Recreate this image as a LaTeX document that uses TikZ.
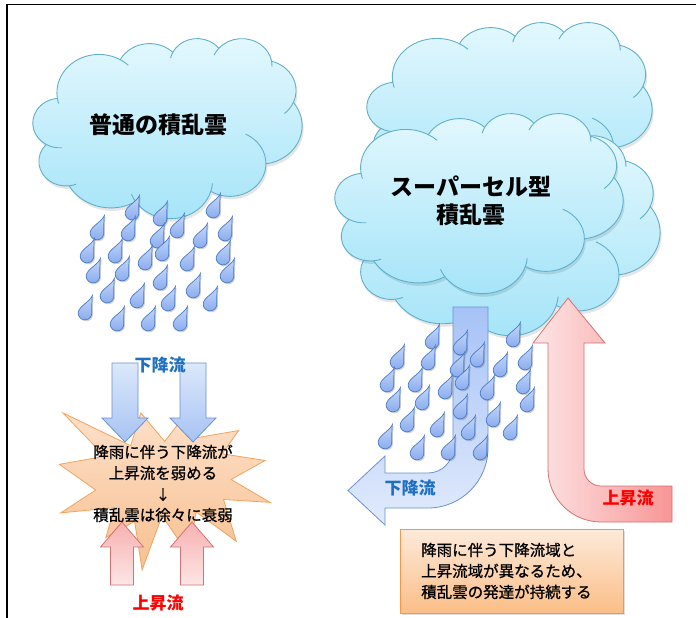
\documentclass[tikz,border=0pt]{standalone}
\usepackage{fontspec}
\newfontfamily\jp{Noto Sans CJK JP}
\newfontfamily\jpbody[FakeBold=0.8]{Noto Sans CJK JP}
\usetikzlibrary{shadows}

\definecolor{cloudtop}{HTML}{E4F8FE}
\definecolor{cloudbot}{HTML}{A4E4F8}
\definecolor{cloudedge}{HTML}{62AFCB}
\definecolor{dropA}{HTML}{C6D9F9}
\definecolor{dropB}{HTML}{8AACEF}
\definecolor{dropedge}{HTML}{4C7CC6}
\definecolor{dnedge}{HTML}{6A92D4}
\definecolor{dntop}{HTML}{DCE8FB}
\definecolor{dnbot}{HTML}{A7C3F3}
\definecolor{benttop}{HTML}{A6C2F6}
\definecolor{bentbot}{HTML}{E2EBFC}
\definecolor{upedge}{HTML}{D47272}
\definecolor{uptop}{HTML}{F7B0B0}
\definecolor{upbot}{HTML}{FDE6E6}
\definecolor{staredge}{HTML}{F2A35E}
\definecolor{startop}{HTML}{FDE3CF}
\definecolor{starbot}{HTML}{F8C090}
\definecolor{boxedge}{HTML}{F79646}
\definecolor{boxtop}{HTML}{FDEADA}
\definecolor{boxbot}{HTML}{FBBE87}
\definecolor{flowblue}{HTML}{1F70C1}
\definecolor{flowred}{HTML}{FF0000}

% elliptical arc given by its visual start angle and sweep (DrawingML style)
\newcommand\cldconv[4]{%
  \pgfmathsetmacro\cldtmpa{atan2((#1)*sin(#3),(#2)*cos(#3))}%
  \pgfmathsetmacro\cldtmpb{atan2((#1)*sin((#3)+(#4)),(#2)*cos((#3)+(#4)))}%
  \pgfmathsetmacro\cldtmpb{ifthenelse((#4)>0,ifthenelse(\cldtmpb<\cldtmpa,\cldtmpb+360,\cldtmpb),ifthenelse(\cldtmpb>\cldtmpa,\cldtmpb-360,\cldtmpb))}%
  \global\let\cldsa\cldtmpa\global\let\cldsb\cldtmpb}
\newcommand\cldarc[4]{\pgfextra{\cldconv{#1}{#2}{#3}{#4}} arc[start angle=\cldsa, end angle=\cldsb, x radius=#1, y radius=#2]}

% cloud outline in a 432 x 432 box
\newcommand\cloudoutline{(39.00,143.70)
  \cldarc{67.53}{91.90}{-190.487}{123.781}
  \cldarc{53.33}{72.67}{-144.102}{89.945}
  \cldarc{43.65}{59.45}{-145.808}{99.723}
  \cldarc{48.57}{65.95}{-130.986}{117.242}
  \cldarc{53.33}{72.73}{-78.709}{109.027}
  \cldarc{67.75}{92.20}{-46.267}{130.269}
  \cldarc{57.85}{78.67}{0.625}{114.033}
  \cldarc{67.52}{92.15}{22.452}{115.173}
  \cldarc{77.20}{105.43}{66.243}{75.711}
  \cldarc{43.60}{59.18}{-274.942}{146.736}
  \cldarc{43.45}{59.45}{-246.829}{152.519}
  -- cycle}
% small inner curves between the puffs
\newcommand\cloudinner{%
  \draw[cloudline] (39.00,143.70) \cldarc{67.53}{91.90}{-190.487}{-11.5};
  \draw[cloudline] (140.05,52.01) \cldarc{67.53}{91.90}{-66.706}{12.3};
  \draw[cloudline] (224.56,34.30) \cldarc{43.65}{59.45}{-145.808}{-17.69};
  \draw[cloudline] (298.33,24.80) \cldarc{48.57}{65.95}{-130.986}{-18.2};
  \draw[cloudline] (383.18,55.77) \cldarc{48.57}{65.95}{-13.744}{14.86};
  \draw[cloudline] (418.18,154.60) \cldarc{53.33}{72.73}{30.318}{27.75};
  \draw[cloudline] (374.04,302.03) \cldarc{57.85}{78.67}{0.625}{-70.92};
  \draw[cloudline] (285.56,368.13) \cldarc{67.52}{92.15}{22.452}{-16.0};
  \draw[cloudline] (164.81,392.66) \cldarc{67.52}{92.15}{137.625}{14.08};
  \draw[cloudline] (58.05,354.72) \cldarc{43.60}{59.18}{85.058}{-11.45};
  \draw[cloudline] (21.14,255.50) \cldarc{43.45}{59.45}{113.171}{-26.43};
}
% #1,#2: top-left corner; #3,#4: width/432 and height/432
\newcommand\drawcloud[4]{%
  \begin{scope}[xshift=#1pt, yshift=-#2pt, x=#3pt, y=-#4pt]
    \fill[cloudshadow] \cloudoutline;
    \path[cloudfill] \cloudoutline;
    \cloudinner
  \end{scope}}

\newcommand\droppath{(7.4,-17.5) .. controls (4.8,-11) and (-6.8,-6.5) .. (-6.8,0)
  .. controls (-6.8,4.2) and (-3.6,6.8) .. (0,6.8)
  .. controls (4,6.8) and (6.8,3.8) .. (6.8,0)
  .. controls (6.8,-5.5) and (6.6,-11) .. cycle}

\newcommand\dropfield{%
  \foreach \p in {(132,213),(160,219),(213,211),(97,233),(128,234),(157,241),
    (177,231),(200,241),(225,234),(87,256),(115,256),(145,263),(162,254),
    (187,264),(223,258),(93,276),(122,274),(160,283),(193,291),(227,276),
    (107,296),(137,301),(168,304),(210,304),(85,313),(117,324),(148,324),(180,324)}
    {\pic at \p {raindrop};}}

\newcommand\dnarrow[1]{\path[dnarrowst] (#1-13,363) -- (#1+13,363) -- (#1+13,418)
  -- (#1+23,418) -- (#1,442) -- (#1-23,418) -- (#1-13,418) -- cycle;}
\newcommand\uparr[1]{\path[uparrowst] (#1,522) -- (#1+21.5,547) -- (#1+11.5,547)
  -- (#1+11.5,585) -- (#1-11.5,585) -- (#1-11.5,547) -- (#1-21.5,547) -- cycle;}

\tikzset{
  cloudfill/.style={top color=cloudtop, bottom color=cloudbot, draw=cloudedge, line width=0.9pt},
  cloudline/.style={draw=cloudedge, line width=0.9pt},
  cloudshadow/.style={fill=black, opacity=0.10, xshift=1.5pt, yshift=-3pt},
  pics/raindrop/.style={code={
    \fill[black, opacity=0.18, xshift=1.2pt, yshift=-1.5pt] \droppath;
    \path[top color=dropA, bottom color=dropB, draw=dropedge, line width=0.7pt] \droppath;}},
  dnarrowst/.style={top color=dntop, bottom color=dnbot, draw=dnedge, line width=0.8pt},
  uparrowst/.style={top color=uptop, bottom color=upbot, draw=upedge, line width=0.8pt},
  starst/.style={top color=startop, bottom color=starbot, draw=staredge, line width=0.8pt},
  bentdown/.style={top color=benttop, bottom color=bentbot, draw=dnedge, line width=0.8pt},
  bentup/.style={left color=upbot, right color=uptop!85!red, draw=upedge, line width=0.8pt},
  sumbox/.style={rectangle, top color=boxtop, bottom color=boxbot, draw=boxedge, line width=0.8pt,
    minimum width=223pt, minimum height=84pt, inner sep=0pt,
    drop shadow={opacity=0.25, shadow xshift=2pt, shadow yshift=-2pt}},
  cloudtitle/.style={font=\jp\bfseries\fontsize{23}{28}\selectfont, align=center, inner sep=0pt},
  bodytext/.style={font=\jpbody\fontsize{15.5}{21}\selectfont, inner sep=0pt},
  flowlabel/.style={font=\jp\bfseries\fontsize{17}{20}\selectfont, inner sep=0pt},
}

\begin{document}
\begin{tikzpicture}[x=1pt, y=-1pt]
\useasboundingbox (0,0) rectangle (696,618);
\fill[white] (0,0) rectangle (696,618);

% ---------- ordinary thunderstorm ----------
\drawcloud{33}{38}{0.6227}{0.4167}
\node[cloudtitle] (ordtitle) at (158,125) {普通の積乱雲};
\dropfield

\begin{scope}[xshift=59.4pt, yshift=-394.3pt, x=0.975pt, y=-0.813pt]
  \path[starst] (108,58) -- (145.22,0) -- (141.55,53.25) -- (183.80,44.57)
    -- (167.02,73.15) -- (210.97,81.37) -- (176.07,104.75) -- (216,132.90)
    -- (168.37,129.42) -- (181.45,180.95) -- (140.20,144.57) -- (132.47,197.37)
    -- (105.32,149.35) -- (84.85,216) -- (77.15,156.27) -- (47.62,176.17)
    -- (56.67,139.37) -- (1.35,145.87) -- (37.22,117.75) -- (0,86.15)
    -- (46.27,76.17) -- (3.70,22.95) -- (73.12,63.20) -- (83.52,22.95) -- cycle;
\end{scope}

\dnarrow{125}
\dnarrow{193}
\uparr{122}
\uparr{192}

\node[flowlabel, text=flowblue] (dnlabA) at (160,365) {下降流};
\node[flowlabel, text=flowred] (uplabA) at (158,603) {上昇流};
\node[bodytext, align=center] (startext) at (163,483.5)
  {降雨に伴う下降流が\\上昇流を弱める\\{\fontsize{14}{21}\selectfont ↓}\\積乱雲は徐々に衰弱};

% ---------- supercell ----------
\drawcloud{367}{22}{0.6597}{0.4167}
\drawcloud{354}{135}{0.7083}{0.4630}
\drawcloud{335}{113}{0.6667}{0.4167}
\node[cloudtitle] (supertitle) at (471,201) {スーパーセル型\\積乱雲};

% downdraft turning to the left
\path[bentdown] (453,307) -- (488,307) -- (488,448)
  arc[start angle=0, end angle=90, radius=60] -- (385,508) -- (385,525)
  -- (348,490.5) -- (385,456) -- (385,473) -- (428,473)
  arc[start angle=90, end angle=0, radius=25] -- cycle;
% updraft coming in from the right
\path[bentup] (568,298) -- (605,343) -- (584,343) -- (584,469)
  arc[start angle=180, end angle=90, radius=17] -- (672,486) -- (672,522)
  -- (601,522) arc[start angle=90, end angle=180, radius=53] -- (548,343)
  -- (533,343) -- cycle;

\begin{scope}[xshift=300pt, yshift=-129pt]
  \dropfield
\end{scope}

\node[flowlabel, text=flowblue] (dnlabB) at (410,488) {下降流};
\node[flowlabel, text=flowred] (uplabB) at (628,498) {上昇流};

\node[sumbox] (summary) at (511.5,571) {};
\node[bodytext, align=left, anchor=west] (sumtext) at (421,571)
  {降雨に伴う下降流域と\\上昇流域が異なるため、\\積乱雲の発達が持続する};

% frame
\draw[line width=1.3pt] (7,618) -- (7,4.5) -- (696,4.5);
\end{tikzpicture}
\end{document}
